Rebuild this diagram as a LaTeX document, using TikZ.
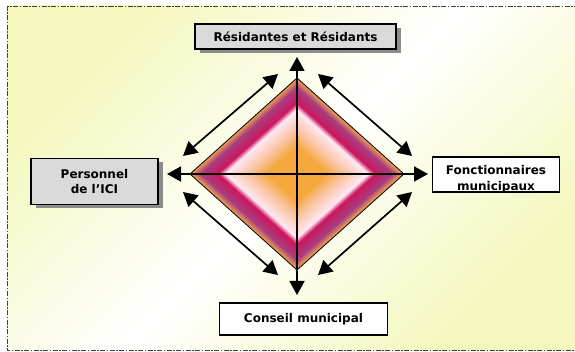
\documentclass[tikz,border=0pt]{standalone}
\usepackage{fontspec}
\setmainfont{DejaVu Sans}
\usetikzlibrary{arrows.meta,shadows}

\definecolor{bgYellow}{RGB}{244,247,188}
\definecolor{boxGray}{RGB}{218,218,218}
\definecolor{dmEdge}{RGB}{240,165,80}
\definecolor{dmPurple}{RGB}{168,62,128}
\definecolor{dmCrimson}{RGB}{206,22,94}
\definecolor{dmPink}{RGB}{255,232,242}
\definecolor{dmPeach}{RGB}{250,200,170}
\definecolor{dmCore}{RGB}{245,168,60}

\begin{document}
\begin{tikzpicture}[x=1pt,y=-1pt,
  box/.style={draw,line width=1.3pt,fill=white,inner sep=0pt,align=center,
    font=\bfseries\fontsize{12}{15}\selectfont},
  graybox/.style={box,fill=boxGray,
    drop shadow={shadow xshift=5pt,shadow yshift=-4pt,fill=black!45,opacity=1}},
  label/.style={inner sep=0pt,font=\bfseries\fontsize{12}{15}\selectfont},
  link/.style={{Triangle[length=14pt,width=15pt]}-{Triangle[length=14pt,width=15pt]},line width=1.7pt}]
  \useasboundingbox (0,0) rectangle (575,352);

  % background and frame
  \shade[top color=bgYellow,bottom color=bgYellow,middle color=white,shading angle=45] (7,6) rectangle (576,350);
  \draw[black!75,line width=0.7pt,dash pattern=on 5pt off 1.5pt on 1.5pt off 1.5pt] (7,6) rectangle (576,350);

  % diamond
  \coordinate (ctr) at (297,174);
  \coordinate (dtop) at (297,78);
  \coordinate (dright) at (404,174);
  \coordinate (dbot) at (297,270);
  \coordinate (dleft) at (190,174);
  \foreach \sa/\sb/\ca/\cb in {1.00/0.90/dmEdge/dmPurple, 0.90/0.74/dmPurple/dmCrimson,
      0.74/0.67/dmCrimson/dmPink, 0.67/0.48/dmPink/dmPeach, 0.48/0.28/dmPeach/dmCore,
      0.28/0.00/dmCore/dmCore}{
    \foreach \j in {0,...,20}{
      \pgfmathsetmacro\s{\sa-(\sa-\sb)*\j/20}
      \pgfmathtruncatemacro\p{5*\j}
      \fill[\cb!\p!\ca] (ctr) ++(0,-96*\s) -- ++(107*\s,96*\s) -- ++(-107*\s,96*\s)
        -- ++(-107*\s,-96*\s) -- cycle;
    }
  }
  \draw[line width=0.8pt] (dtop) -- (dright) -- (dbot) -- (dleft) -- cycle;

  % partners
  \node[graybox,minimum width=201pt,minimum height=25pt] (res) at (295.5,36.5) {Résidantes et Résidants};
  \node[graybox,minimum width=127pt,minimum height=46pt] (pers) at (94.5,181.5) {Personnel\\de l’ICI};
  \node[box,minimum width=127pt,minimum height=35pt] (fonc) at (496,174.5) {};
  \begin{scope}
    \clip ([shift={(0.65pt,0.65pt)}]fonc.south west) rectangle ([shift={(-0.65pt,-0.65pt)}]fonc.north east);
    \node[label,anchor=base] (foncA) at (496,175) {Fonctionnaires};
    \node[label,anchor=base] (foncB) at (496,191) {municipaux};
  \end{scope}
  \node[box,minimum width=168pt,minimum height=32pt] (cons) at (303.5,319) {Conseil municipal};

  % arrows
  \coordinate (vA) at (297,57);
  \coordinate (vB) at (297,295);
  \coordinate (hA) at (167,174);
  \coordinate (hB) at (428,174);
  \draw[link] (vA) -- (vB);
  \draw[link] (hA) -- (hB);
  \coordinate (ulA) at (183,156);
  \coordinate (ulB) at (278,74);
  \coordinate (urA) at (318,74);
  \coordinate (urB) at (412,156);
  \coordinate (llA) at (183,192);
  \coordinate (llB) at (278,275);
  \coordinate (lrA) at (318,275);
  \coordinate (lrB) at (412,192);
  \draw[link] (ulA) -- (ulB);
  \draw[link] (urA) -- (urB);
  \draw[link] (llA) -- (llB);
  \draw[link] (lrA) -- (lrB);
\end{tikzpicture}
\end{document}
